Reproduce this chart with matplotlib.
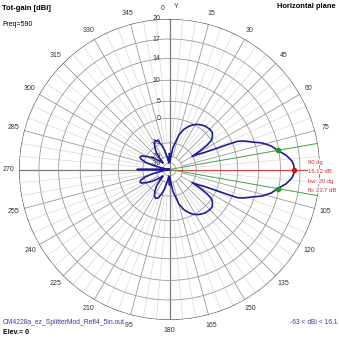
import numpy as np
import matplotlib
matplotlib.use("Agg")
import matplotlib.pyplot as plt

plt.rcParams['font.family'] = ['Liberation Sans', 'DejaVu Sans']

# ARRL-style radial scale: dBi -> fraction of the outer radius
scale_db = [-63, -30, -20, -10, 0, 5, 10, 14, 17, 20]
scale_frac = [0.0, 0.043, 0.087, 0.177, 0.34, 0.453, 0.593, 0.737, 0.867, 1.0]
ring_db = [-30, -20, -10, 0, 5, 10, 14, 17, 20]
ring_labels = ['-30', '-20', '-10', '0', '5', '10', '14', '17', '20']

# azimuth (deg, compass) and total gain (dBi)
az_deg = [0, 3, 6, 9, 12, 15, 19, 24, 28, 32, 36, 40, 45, 49, 52, 55, 57, 58.5,
          60, 62, 63.7, 65.6, 66.7, 67.5, 69, 71, 74, 77, 80, 83, 86, 88, 90,
          92, 94, 97, 100, 103, 106, 109, 111, 112.5, 113.3, 114.4, 116.3, 118,
          120, 121.5, 123, 125, 128, 131, 135, 140, 144, 148, 152, 156, 161, 165,
          168, 171, 174, 177, 180,
          183, 186, 190, 194, 198, 202, 206, 210, 214, 218, 222, 225, 228, 232,
          236, 240, 244, 247, 250, 253, 256, 259, 262, 264, 267, 269, 270,
          271, 273, 276, 278, 281, 284, 287, 290, 293, 296, 300, 304, 308, 312,
          315, 318, 322, 326, 330, 334, 338, 342, 346, 350, 354, 357, 360]
gain_dbi = [-18, -28, -20, -13, -9.9, -6.5, -3.8, -1.6, -0.2, 0.6, 1.1, 1.5, 1.7, 1.6, 1.0, 0.1, -2.5, -6,
            -10.5, -7.5, -5.6, -0.9, 3.4, 6.3, 7.7, 9.0, 11.3, 12.8, 13.8, 15.0, 15.8, 16.05, 16.12,
            16.05, 15.8, 15.0, 13.8, 12.8, 11.3, 9.0, 7.7, 6.3, 3.4, -0.9, -5.6, -7.5,
            -10.5, -6, -2.5, 0.1, 1.0, 1.6, 1.7, 1.5, 1.1, 0.6, -0.2, -1.6, -3.8, -6.5,
            -9.9, -13, -20, -28, -18,
            -28, -30, -22, -15, -10.5, -8.3, -7.8, -8.5, -10.5, -14, -20, -26, -22, -18,
            -14, -10.5, -8.2, -7.8, -8.5, -11, -17, -30, -63, -45, -30, -16, -7.6,
            -16, -30, -45, -63, -30, -17, -11, -8.5, -7.8, -8.2, -10.5, -14, -18, -22,
            -26, -20, -14, -10.5, -8.5, -7.8, -8.3, -10.5, -15, -22, -30, -28, -18]

peak_az = 90
peak_dbi = 16.12
bw_az = [80, 100]
fb_db = 23.7
freq = 590
gain_range = (-63, 16.1)


def fwd(x):
    return np.interp(x, scale_db, scale_frac)


def inv(y):
    return np.interp(y, scale_frac, scale_db)


fig = plt.figure(figsize=(3.39, 3.39), dpi=100)
fig.patch.set_facecolor('white')
ax = fig.add_axes([0.5 - 0.444, 0.5 - 0.444, 0.888, 0.888], projection='polar')
ax.set_theta_zero_location('N')
ax.set_theta_direction(-1)
ax.set_yscale('function', functions=(fwd, inv))
ax.set_ylim(-63, 20)
ax.grid(False)
ax.set_xticks([])
ax.set_yticks([])
ax.spines['polar'].set_visible(False)

rmin, rmax = -63, 20
full = np.radians(np.linspace(0, 360, 721))

# spokes: light every 5 deg, darker every 15 deg
for a in range(0, 360, 5):
    th = np.radians(a)
    if a % 90 == 0:
        ax.plot([th, th], [rmin, rmax], color='#7a7a7a', lw=0.9, zorder=1)
    elif a % 15 == 0:
        ax.plot([th, th], [-20, rmax], color='#9a9a9a', lw=0.6, zorder=1)
    else:
        ax.plot([th, th], [-10, rmax], color='#d9d9d9', lw=0.5, zorder=0.5)

# rings
for lvl in ring_db:
    if lvl == 20:
        ax.plot(full, np.full_like(full, lvl), color='#555555', lw=0.9, zorder=1)
    else:
        ax.plot(full, np.full_like(full, lvl), color='#9a9a9a', lw=0.6, zorder=1)

for lvl, lab in zip(ring_db, ring_labels):
    ax.annotate(lab, xy=(0, lvl), xytext=(-6.5, 0), textcoords='offset points',
                ha='right', va='center', fontsize=5, color='#333333', zorder=2)

# angle labels
for a in range(15, 360, 15):
    if a == 90:
        continue
    t = np.radians(a)
    ax.text(0.5 + 0.535 * np.sin(t), 0.5 + 0.535 * np.cos(t), str(a),
            transform=ax.transAxes, ha='center', va='center', fontsize=5,
            color='#333333')

# marker lines
th_pk = np.radians(peak_az)
ax.plot([th_pk, th_pk], [rmin, rmax], color='#d04545', lw=0.7, zorder=2)
for b in bw_az:
    tb = np.radians(b)
    ax.plot([tb, tb], [rmin, rmax], color='#4aa64a', lw=0.7, zorder=2)

ax.plot(np.radians(az_deg), gain_dbi, color='#1c1c96', lw=1.2, zorder=3)

for b in bw_az:
    g = gain_dbi[az_deg.index(b)]
    ax.plot(np.radians(b), g, 'o', color='#1f9a1f', ms=3, zorder=4)
ax.plot(th_pk, peak_dbi, 'o', color='#e01010', ms=3, zorder=4)

W = H = 339.0


def put(x, y, s, **kw):
    fig.text(x / W, 1 - y / H, s, va='center', **kw)


put(163, 9, '0', fontsize=5, color='#333333', ha='center')
put(176, 6, 'Y', fontsize=5, color='#333333', ha='center')

put(2, 8, 'Tot-gain [dBi]', fontsize=5.5, fontweight='bold')
put(2, 25, f'Freq={freq}', fontsize=5)
put(336, 7, 'Horizontal plane', fontsize=5.4, fontweight='bold', ha='right')

box = dict(facecolor='white', edgecolor='none', pad=0.3)
red = '#d03030'
put(308, 162, f'{peak_az} dg', fontsize=4.2, color=red, bbox=box)
put(308, 171.5, f'{peak_dbi} dB', fontsize=4.2, color=red, bbox=box)
put(308, 181, f'bw: {bw_az[1] - bw_az[0]} dg', fontsize=4.2, color=red, bbox=box)
put(308, 190, f'fb: {fb_db} dB', fontsize=4.2, color=red, bbox=box)

put(3, 323, 'CM4228a_ez_SplitterMod_Refl4_5in.out', fontsize=4.85, color='#3a3aa0', bbox=box)
put(3, 333, 'Elev.= 0', fontsize=5, fontweight='bold')
put(337, 323, f'{gain_range[0]} < dBi < {gain_range[1]}', fontsize=4.8, color='#3a3aa0', ha='right')

fig.savefig('out.png', dpi=100, facecolor='white')
